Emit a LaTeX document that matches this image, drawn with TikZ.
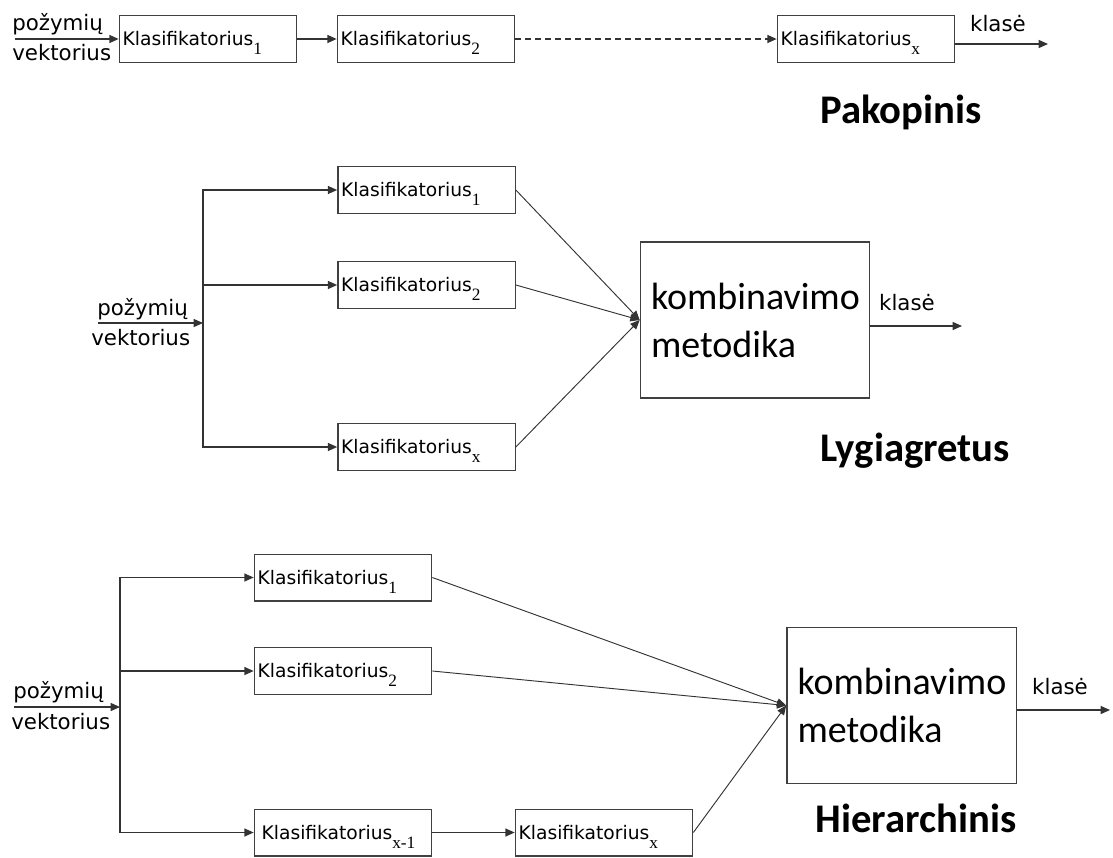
\documentclass[tikz,border=0pt]{standalone}
\usepackage{fontspec}
\setmainfont{Carlito}
\newfontfamily\labelfont{DejaVu Sans}
\newfontfamily\subfont{Liberation Serif}
\usetikzlibrary{arrows.meta}
\newcommand{\idx}[1]{\raisebox{-6.5pt}[0pt][0pt]{\subfont\fontsize{13}{13}\selectfont #1}}

\begin{document}
\begin{tikzpicture}[x=0.75pt, y=-0.75pt,
  klas/.style={draw=black!75, line width=1pt, minimum height=35pt, inner sep=2.5pt,
    text width=#1, align=left, font=\labelfont\fontsize{14}{15}\selectfont},
  klas/.default=128pt,
  komb/.style={draw=black!75, line width=1pt, minimum height=117pt, inner sep=8pt,
    text width=156pt, align=left, font=\fontsize{28.5}{36}\selectfont},
  lbl/.style={inner sep=0pt, font=\labelfont\fontsize{16}{17}\selectfont},
  title/.style={inner sep=0pt, font=\bfseries\fontsize{30.5}{32}\selectfont},
  arr/.style={draw=black!80, line width=1pt, -{Triangle[length=7pt,width=6pt]}}]
\useasboundingbox (0,0) rectangle (1113,857);

% pakopinis
\node[lbl, anchor=west] (tp) at (12,24) {požymių};
\node[lbl, anchor=west] (tv) at (12,53) {vektorius};
\coordinate (tin) at (15,39);
\node[klas] (T1) at (208,39) {Klasifikatorius\idx{1}};
\node[klas] (T2) at (426,39) {Klasifikatorius\idx{2}};
\node[klas] (Tx) at (866,39) {Klasifikatorius\idx{x}};
\coordinate (tout) at (1048,44);
\draw[arr] (tin) -- (T1.west);
\draw[arr] (T1) -- (T2);
\draw[arr, dash pattern=on 4.5pt off 3pt] (T2) -- (Tx);
\draw[arr] (Tx.east |- tout) -- (tout);
\node[lbl] (tk) at (998,24) {klasė};
\node[title] (tt) at (901,112) {Pakopinis};

% lygiagretus
\coordinate (min) at (98,323);
\coordinate (msplit) at (203,323);
\node[lbl, anchor=west] (mp) at (97,309) {požymių};
\node[lbl, anchor=west] (mv) at (91,338) {vektorius};
\node[klas] (M1) at (426.5,190) {Klasifikatorius\idx{1}};
\node[klas] (M2) at (426.5,285) {Klasifikatorius\idx{2}};
\node[klas] (Mx) at (426.5,447) {Klasifikatorius\idx{x}};
\node[komb] (MC) at (755,320) {kombinavimo\\metodika};
\draw[arr] (min) -- (msplit);
\draw[arr] (msplit) |- (M1.west);
\draw[arr] (msplit) |- (M2.west);
\draw[arr] (msplit) |- (Mx.west);
\draw[arr, line width=0.7pt] (M1.east) -- (MC.west);
\draw[arr, line width=0.7pt] (M2.east) -- (MC.west);
\draw[arr, line width=0.7pt] (Mx.east) -- (MC.west);
\coordinate (mout) at (962,326);
\draw[arr] (MC.east |- mout) -- (mout);
\node[lbl] (mk) at (907,303) {klasė};
\node[title] (mt) at (915,451) {Lygiagretus};

% hierarchinis
\coordinate (bin) at (14,707);
\coordinate (bsplit) at (120,707);
\node[lbl, anchor=west] (bp) at (13,692) {požymių};
\node[lbl, anchor=west] (bv) at (11,722) {vektorius};
\node[klas] (B1) at (343,577.5) {Klasifikatorius\idx{1}};
\node[klas] (B2) at (343,671) {Klasifikatorius\idx{2}};
\node[klas] (Bx1) at (343,832.5) {\hspace{3pt}Klasifikatorius\idx{x-1}};
\node[klas] (Bx) at (604,832.5) {Klasifikatorius\idx{x}};
\node[komb] (BC) at (901.5,705.5) {kombinavimo\\metodika};
\draw[arr] (bin) -- (bsplit);
\draw[arr] (bsplit) |- (B1.west);
\draw[arr] (bsplit) |- (B2.west);
\draw[arr] (bsplit) |- (Bx1.west);
\draw[arr] (Bx1) -- (Bx);
\draw[arr, line width=0.7pt] (B1.east) -- (BC.west);
\draw[arr, line width=0.7pt] (B2.east) -- (BC.west);
\draw[arr, line width=0.7pt] (Bx.east) -- (BC.west);
\coordinate (bout) at (1110,710);
\draw[arr] (BC.east |- bout) -- (bout);
\node[lbl] (bk) at (1060,687) {klasė};
\node[title] (bt) at (916,818) {Hierarchinis};
\end{tikzpicture}
\end{document}
